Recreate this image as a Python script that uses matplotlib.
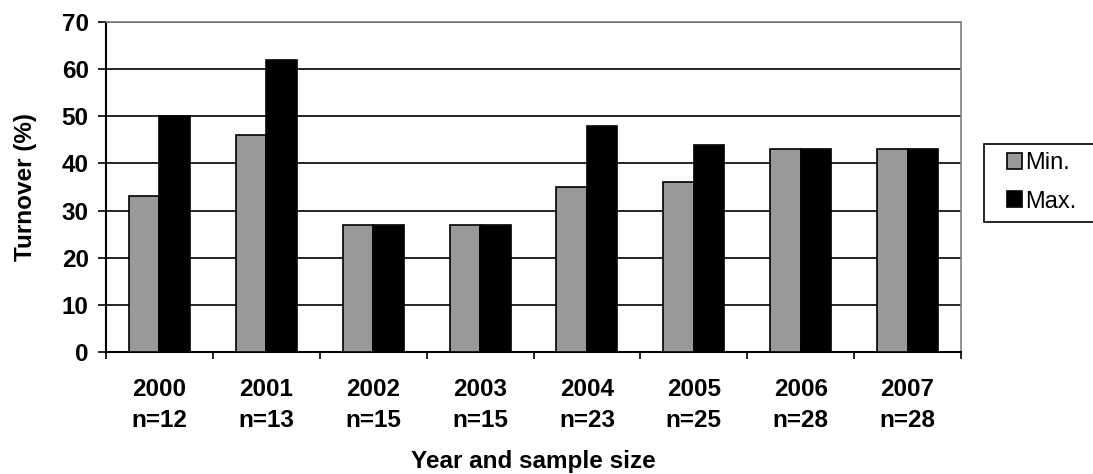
import numpy as np
import matplotlib.pyplot as plt
from matplotlib.patches import Rectangle

plt.rcParams['font.family'] = ['Liberation Sans', 'DejaVu Sans']

years = ['2000', '2001', '2002', '2003', '2004', '2005', '2006', '2007']
sizes = ['n=12', 'n=13', 'n=15', 'n=15', 'n=23', 'n=25', 'n=28', 'n=28']
turnover_min = [33, 46, 27, 27, 35, 36, 43, 43]
turnover_max = [50, 62, 27, 27, 48, 44, 43, 43]

fs = 17.5
W, H = 1093, 474

fig = plt.figure(figsize=(W / 100, H / 100), dpi=100)
ax = fig.add_axes([106 / W, 1 - 352 / H, (961 - 106) / W, (352 - 22) / H])

x = np.arange(len(years))
w = 0.285
ax.bar(x - w / 2, turnover_min, w, color='#999999', edgecolor='black', linewidth=1.2,
       label='Min.', zorder=3)
ax.bar(x + w / 2, turnover_max, w, color='black', edgecolor='black', linewidth=1.2,
       label='Max.', zorder=3)

ax.set_xlim(-0.5, len(years) - 0.5)
ax.set_ylim(0, 70)
ax.set_yticks(range(0, 71, 10))
ax.yaxis.grid(True, color='black', linewidth=1.2, zorder=0)
ax.set_axisbelow(True)

ax.set_xticks(x)
ax.set_xticklabels([f'{y}\n{n}' for y, n in zip(years, sizes)], fontsize=fs,
                   fontweight='bold', linespacing=1.4)
ax.tick_params(axis='x', length=0, pad=19)
ax.set_xticks(np.arange(-0.5, len(years)), minor=True)
ax.tick_params(axis='x', which='minor', length=5, width=1.2, direction='out')
ax.tick_params(axis='y', length=5.5, width=1.2, labelsize=fs, pad=7)
for lab in ax.get_yticklabels():
    lab.set_fontweight('bold')

for s in ['left', 'bottom']:
    ax.spines[s].set_color('black')
    ax.spines[s].set_linewidth(1.5)
for s in ['top', 'right']:
    ax.spines[s].set_color('#808080')
    ax.spines[s].set_linewidth(1.2)

ax.set_ylabel('Turnover (%)', fontsize=fs, fontweight='bold', labelpad=18)
ax.set_xlabel('Year and sample size', fontsize=fs, fontweight='bold', labelpad=13.5)

# legend box (frame drawn separately, it runs off the right edge)
fig.patches.append(Rectangle((984 / W, 1 - 222 / H), 130 / W, 78 / H,
                             transform=fig.transFigure, facecolor='white',
                             edgecolor='black', linewidth=1.2, zorder=1))
leg = fig.legend(loc='upper left', bbox_to_anchor=(1007 / W, 1 - 152 / H),
                 fontsize=17, frameon=False,
                 handlelength=0.65, handleheight=0.65, handletextpad=0.1,
                 borderpad=0, labelspacing=0.7, borderaxespad=0)
leg.set_zorder(2)

fig.savefig('out.png', dpi=100)
